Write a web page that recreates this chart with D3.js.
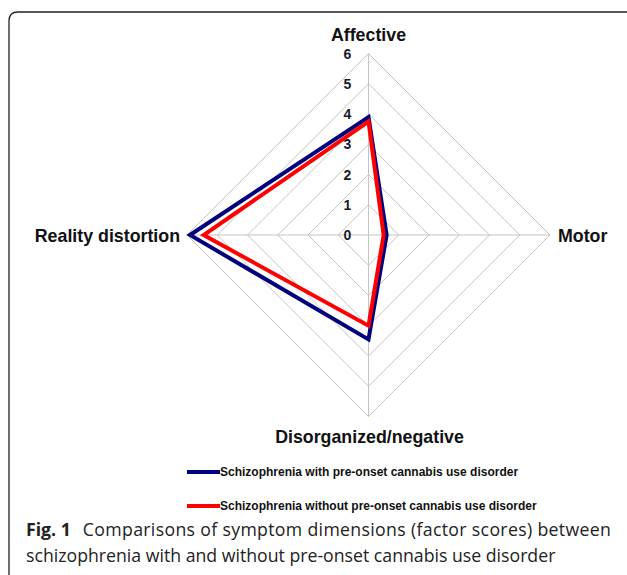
<!DOCTYPE html>
<head>
  <meta charset="utf-8">
  <script src="https://d3js.org/d3.v7.min.js"></script>
  <style>
    body { margin:0; background:white; }
    .axisLabel { font-family: 'Liberation Sans', Arial, sans-serif; font-weight: bold; font-size: 17.8px; fill: #111; }
    .tickText { font-family: 'Liberation Sans', Arial, sans-serif; font-weight: bold; font-size: 14px; fill: #1a1a2a; }
    .legendText { font-family: 'Liberation Sans', Arial, sans-serif; font-weight: bold; font-size: 12px; fill: #111; }
    .caption { font-family: 'Open Sans', sans-serif; font-size: 17.7px; fill: #222; }
  </style>
</head>
<body>
  <script>
    // data
    const dimensions = ['Affective', 'Motor', 'Disorganized/negative', 'Reality distortion'];
    const withCud = [3.9, 0.6, 3.45, 5.9];
    const withoutCud = [3.75, 0.5, 3.0, 5.45];
    const seriesNames = ['Schizophrenia with pre-onset cannabis use disorder',
                         'Schizophrenia without pre-onset cannabis use disorder'];
    const seriesColors = ['#00007f', '#ff0000'];
    const ticks = [0, 1, 2, 3, 4, 5, 6];

    const width = 627, height = 575;
    const cx = 368.5, cy = 235;

    const svg = d3.select('body').append('svg')
      .attr('width', width)
      .attr('height', height);

    // frame with rounded top-left corner
    svg.append('path')
      .attr('d', 'M9,580 L9,21 Q9,12 18,12 L630,12')
      .style('fill', 'none')
      .style('stroke', '#222')
      .style('stroke-width', 1.3);

    const r = d3.scaleLinear().domain([0, 6]).range([0, 181.5]);

    // angle for each axis: top, right, bottom, left
    const angle = i => -Math.PI / 2 + i * Math.PI * 2 / dimensions.length;
    const pt = (v, i) => [cx + r(v) * Math.cos(angle(i)), cy + r(v) * Math.sin(angle(i))];

    // grid rings
    const grid = svg.append('g');
    grid.selectAll('.ring')
      .data(ticks.slice(1))
      .enter()
      .append('path')
      .attr('d', t => d3.line()(dimensions.map((d, i) => pt(t, i))) + 'Z')
      .style('fill', 'none')
      .style('stroke', '#c4c4c4')
      .style('stroke-width', 1);

    grid.selectAll('.spoke')
      .data(dimensions)
      .enter()
      .append('line')
      .attr('x1', cx).attr('y1', cy)
      .attr('x2', (d, i) => pt(6, i)[0])
      .attr('y2', (d, i) => pt(6, i)[1])
      .style('stroke', '#c4c4c4')
      .style('stroke-width', 1);

    // tick labels along the top axis
    svg.selectAll('.tickText')
      .data(ticks)
      .enter()
      .append('text')
      .classed('tickText', true)
      .attr('x', cx - 21)
      .attr('y', t => cy - r(t) + 5)
      .attr('text-anchor', 'middle')
      .text(t => t);

    // series
    [withCud, withoutCud].forEach((vals, s) => {
      svg.append('path')
        .attr('d', d3.line()(vals.map((v, i) => pt(v, i))) + 'Z')
        .style('fill', 'none')
        .style('stroke', seriesColors[s])
        .style('stroke-width', 4)
        .style('stroke-linejoin', 'miter');
    });

    // axis labels
    const labelPos = [
      { x: cx, y: 41, anchor: 'middle' },
      { x: 558, y: 242, anchor: 'start' },
      { x: cx + 1, y: 443, anchor: 'middle' },
      { x: 180, y: 242, anchor: 'end' }
    ];
    svg.selectAll('.axisLabel')
      .data(dimensions)
      .enter()
      .append('text')
      .classed('axisLabel', true)
      .attr('x', (d, i) => labelPos[i].x)
      .attr('y', (d, i) => labelPos[i].y)
      .attr('text-anchor', (d, i) => labelPos[i].anchor)
      .text(d => d);

    // legend
    const legend = svg.append('g').attr('transform', 'translate(187, 472)');
    const keys = legend.selectAll('.key')
      .data(seriesNames)
      .enter()
      .append('g')
      .attr('transform', (d, i) => `translate(0, ${i * 34})`);
    keys.append('line')
      .attr('x1', 0).attr('x2', 33)
      .style('stroke', (d, i) => seriesColors[i])
      .style('stroke-width', 4);
    keys.append('text')
      .classed('legendText', true)
      .attr('x', 33)
      .attr('y', 4)
      .text(d => d);

    // caption
    const cap = svg.append('text').classed('caption', true).attr('x', 26).attr('y', 536);
    cap.append('tspan').style('font-weight', 'bold').text('Fig. 1');
    cap.append('tspan').attr('dx', 12)
      .attr('textLength', 528).attr('lengthAdjust', 'spacing')
      .text('Comparisons of symptom dimensions (factor scores) between');
    svg.append('text').classed('caption', true)
      .attr('x', 26).attr('y', 562)
      .text('schizophrenia with and without pre-onset cannabis use disorder');
  </script>
</body>
